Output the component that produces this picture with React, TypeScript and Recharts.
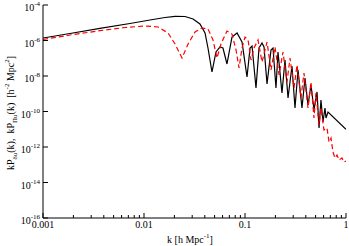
import React from 'react';
import { LineChart, Line, XAxis, YAxis } from 'recharts';

// Black solid: kP_δu(k)
const blackK = [
  0.001, 0.00185, 0.00366, 0.00726, 0.01146, 0.01614, 0.0203, 0.0255, 0.0306, 0.0358,
  0.0402, 0.0430, 0.0471, 0.0516, 0.0565, 0.0605, 0.0663, 0.0743, 0.0834, 0.0934,
  0.1047, 0.1122, 0.1174, 0.1285, 0.1377, 0.1474, 0.1543, 0.1652, 0.1809, 0.1893,
  0.2027, 0.2122, 0.2323, 0.2489, 0.2667, 0.2918, 0.3126, 0.3350, 0.3665, 0.3927,
  0.4207, 0.4500, 0.4820, 0.5164, 0.5408, 0.5650, 0.5916, 0.6194, 0.6339, 0.6637, 1,
];
const blackV = [
  1.38e-6, 2.48e-6, 4.86e-6, 9.08e-6, 1.43e-5, 1.98e-5, 2.31e-5, 2.25e-5, 1.63e-5, 8.51e-6,
  2.65e-6, 3.78e-7, 1.68e-8, 2.25e-7, 4.31e-7, 3.78e-7, 4.74e-8, 1.57e-6, 2.65e-6, 8.22e-7,
  8.79e-9, 3.78e-7, 4.9e-7, 2.11e-9, 3.78e-7, 7.22e-7, 4.31e-7, 3.54e-9, 2.92e-7, 3.78e-7,
  2.11e-9, 2.25e-7, 1.1e-9, 7.96e-8, 5.77e-10, 3.66e-8, 1.57e-10, 2.18e-8, 1.57e-10, 7.71e-9,
  2.32e-10, 3.11e-9, 1.22e-10, 1.26e-9, 1.17e-11, 4.45e-10, 2.56e-11, 1.57e-10, 4.31e-11, 9.38e-11, 1.0e-11,
];

// Red dashed: kP_Πu(k)
const redK = [
  0.001, 0.00185, 0.00366, 0.00649, 0.01023, 0.01377, 0.0173, 0.0203, 0.0238, 0.0273,
  0.032, 0.0375, 0.043, 0.0482, 0.0528, 0.0578, 0.0663, 0.0743, 0.0815, 0.0873,
  0.0934, 0.1, 0.1072, 0.1147, 0.1228, 0.1346, 0.1474, 0.1652, 0.1809, 0.1982,
  0.2172, 0.2377, 0.2605, 0.2791, 0.3055, 0.3273, 0.3581, 0.3836, 0.4207, 0.45,
  0.482, 0.5047, 0.5408, 0.565, 0.6053, 0.6486, 0.6792, 0.7104, 0.743, 0.7776,
  0.8147, 0.8531, 0.912, 0.955, 1,
];
const redV = [
  1.14e-6, 2.04e-6, 3.56e-6, 5.4e-6, 6.56e-6, 5.77e-6, 2.65e-6, 6.35e-7, 1.03e-7, 6.35e-7,
  3.01e-6, 5.06e-6, 4.45e-6, 1.07e-6, 1.03e-7, 6.35e-7, 3.43e-6, 2.32e-6, 2.92e-7, 2.83e-8,
  3.78e-7, 1.57e-6, 1.07e-6, 7.96e-8, 3.78e-7, 1.07e-6, 6.15e-8, 8.22e-7, 2.18e-8, 4.31e-7,
  1.14e-8, 2.25e-7, 4.59e-9, 1.03e-7, 2.11e-9, 4.17e-8, 5.77e-10, 1.48e-8, 1.57e-10, 4.59e-9,
  4.31e-11, 1.1e-9, 1.73e-11, 1.57e-10, 9.08e-12, 1.17e-11, 1.91e-12, 3.21e-12, 5.22e-13, 2.4e-13,
  3.54e-13, 1.85e-13, 2.4e-13, 1.43e-13, 1.63e-13,
];

const xTicks = [
  0.001, 0.002, 0.003, 0.004, 0.005, 0.006, 0.007, 0.008, 0.009,
  0.01, 0.02, 0.03, 0.04, 0.05, 0.06, 0.07, 0.08, 0.09,
  0.1, 0.2, 0.3, 0.4, 0.5, 0.6, 0.7, 0.8, 0.9, 1,
];
const xMajorTicks = [0.001, 0.01, 0.1, 1];
const xMajorLabels = ['0.001', '0.01', '0.1', '1'];
const yTicks = [1e-16, 1e-14, 1e-12, 1e-10, 1e-8, 1e-6, 1e-4];

const blackData = blackK.map((k, i) => ({ k, v: blackV[i] }));
const redData = redK.map((k, i) => ({ k, v: redV[i] }));

const FONT = '"Liberation Serif", "DejaVu Serif", serif';

const majorIndex = (v: number) =>
  xMajorTicks.findIndex((m) => Math.abs(Math.log10(v) - Math.log10(m)) < 1e-6);

const XTickBottom = (props: any) => {
  const { x, y, payload } = props;
  const mi = majorIndex(payload.value);
  const len = mi >= 0 ? 5 : 3;
  return (
    <g>
      <line x1={x} y1={y} x2={x} y2={y - len} stroke="#000" strokeWidth={1} />
      {mi >= 0 && (
        <text x={x} y={y + 10} textAnchor="middle" fontFamily={FONT} fontSize={10} fill="#000">
          {xMajorLabels[mi]}
        </text>
      )}
    </g>
  );
};

const XTickTop = (props: any) => {
  const { x, y, payload } = props;
  const mi = majorIndex(payload.value);
  const len = mi >= 0 ? 5 : 3;
  return <line x1={x} y1={y} x2={x} y2={y + len} stroke="#000" strokeWidth={1} />;
};

const YTickLeft = (props: any) => {
  const { x, y, payload } = props;
  const e = Math.round(Math.log10(payload.value));
  return (
    <g>
      <line x1={x} y1={y} x2={x + 5} y2={y} stroke="#000" strokeWidth={1} />
      <text x={x - 3} y={y + 6} textAnchor="end" fontFamily={FONT} fontSize={10} fill="#000">
        10
        <tspan dy={-5} fontSize={7}>
          {String(e)}
        </tspan>
      </text>
    </g>
  );
};

const YTickRight = (props: any) => {
  const { x, y } = props;
  return <line x1={x} y1={y} x2={x - 5} y2={y} stroke="#000" strokeWidth={1} />;
};

export default function App() {
  return (
    <div style={{ position: 'absolute', left: 0, top: 0, width: 349, height: 246, background: '#fff' }}>
      <LineChart width={349} height={246} margin={{ top: 5, right: 3, bottom: 0, left: 0 }}>
        <XAxis
          xAxisId="b"
          dataKey="k"
          type="number"
          scale="log"
          domain={[0.001, 1]}
          allowDataOverflow
          ticks={xTicks}
          interval={0}
          orientation="bottom"
          height={28}
          tickSize={0}
          tickMargin={0}
          tickLine={false}
          axisLine={{ stroke: '#000' }}
          tick={<XTickBottom />}
        />
        <XAxis
          xAxisId="t"
          dataKey="k"
          type="number"
          scale="log"
          domain={[0.001, 1]}
          allowDataOverflow
          ticks={xTicks}
          interval={0}
          orientation="top"
          height={0}
          tickSize={0}
          tickMargin={0}
          tickLine={false}
          axisLine={{ stroke: '#000' }}
          tick={<XTickTop />}
        />
        <YAxis
          yAxisId="l"
          type="number"
          scale="log"
          domain={[1e-16, 1e-4]}
          allowDataOverflow
          ticks={yTicks}
          interval={0}
          orientation="left"
          width={43}
          tickSize={0}
          tickMargin={0}
          tickLine={false}
          axisLine={{ stroke: '#000' }}
          tick={<YTickLeft />}
        />
        <YAxis
          yAxisId="r"
          type="number"
          scale="log"
          domain={[1e-16, 1e-4]}
          allowDataOverflow
          ticks={yTicks}
          interval={0}
          orientation="right"
          width={0}
          tickSize={0}
          tickMargin={0}
          tickLine={false}
          axisLine={{ stroke: '#000' }}
          tick={<YTickRight />}
        />
        <Line
          data={blackData}
          dataKey="v"
          xAxisId="b"
          yAxisId="l"
          type="linear"
          stroke="#000"
          strokeWidth={1.2}
          dot={false}
          isAnimationActive={false}
        />
        <Line
          data={redData}
          dataKey="v"
          xAxisId="b"
          yAxisId="l"
          type="linear"
          stroke="#ff0000"
          strokeWidth={1.2}
          strokeDasharray="5 3"
          dot={false}
          isAnimationActive={false}
        />
      </LineChart>
      <svg
        width={349}
        height={246}
        style={{ position: 'absolute', left: 0, top: 0, pointerEvents: 'none' }}
      >
        <text
          x={190}
          y={243}
          textAnchor="middle"
          fontFamily={FONT}
          fontSize={10}
          fill="#000"
        >
          k [h Mpc
          <tspan dy={-5} fontSize={7}>
            -1
          </tspan>
          <tspan dy={5}>]</tspan>
        </text>
        <text
          x={0}
          y={0}
          transform="translate(14,113) rotate(-90)"
          textAnchor="middle"
          fontFamily={FONT}
          fontSize={10}
          fill="#000"
        >
          kP
          <tspan dy={3} fontSize={7}>
            δu
          </tspan>
          <tspan dy={-3}>{'(k),\u00a0\u00a0kP'}</tspan>
          <tspan dy={3} fontSize={7}>
            Πu
          </tspan>
          <tspan dy={-3}>{'(k)\u00a0\u00a0[h'}</tspan>
          <tspan dy={-5} fontSize={7}>
            -2
          </tspan>
          <tspan dy={5}>{'\u00a0Mpc'}</tspan>
          <tspan dy={-5} fontSize={7}>
            2
          </tspan>
          <tspan dy={5}>]</tspan>
        </text>
      </svg>
    </div>
  );
}
